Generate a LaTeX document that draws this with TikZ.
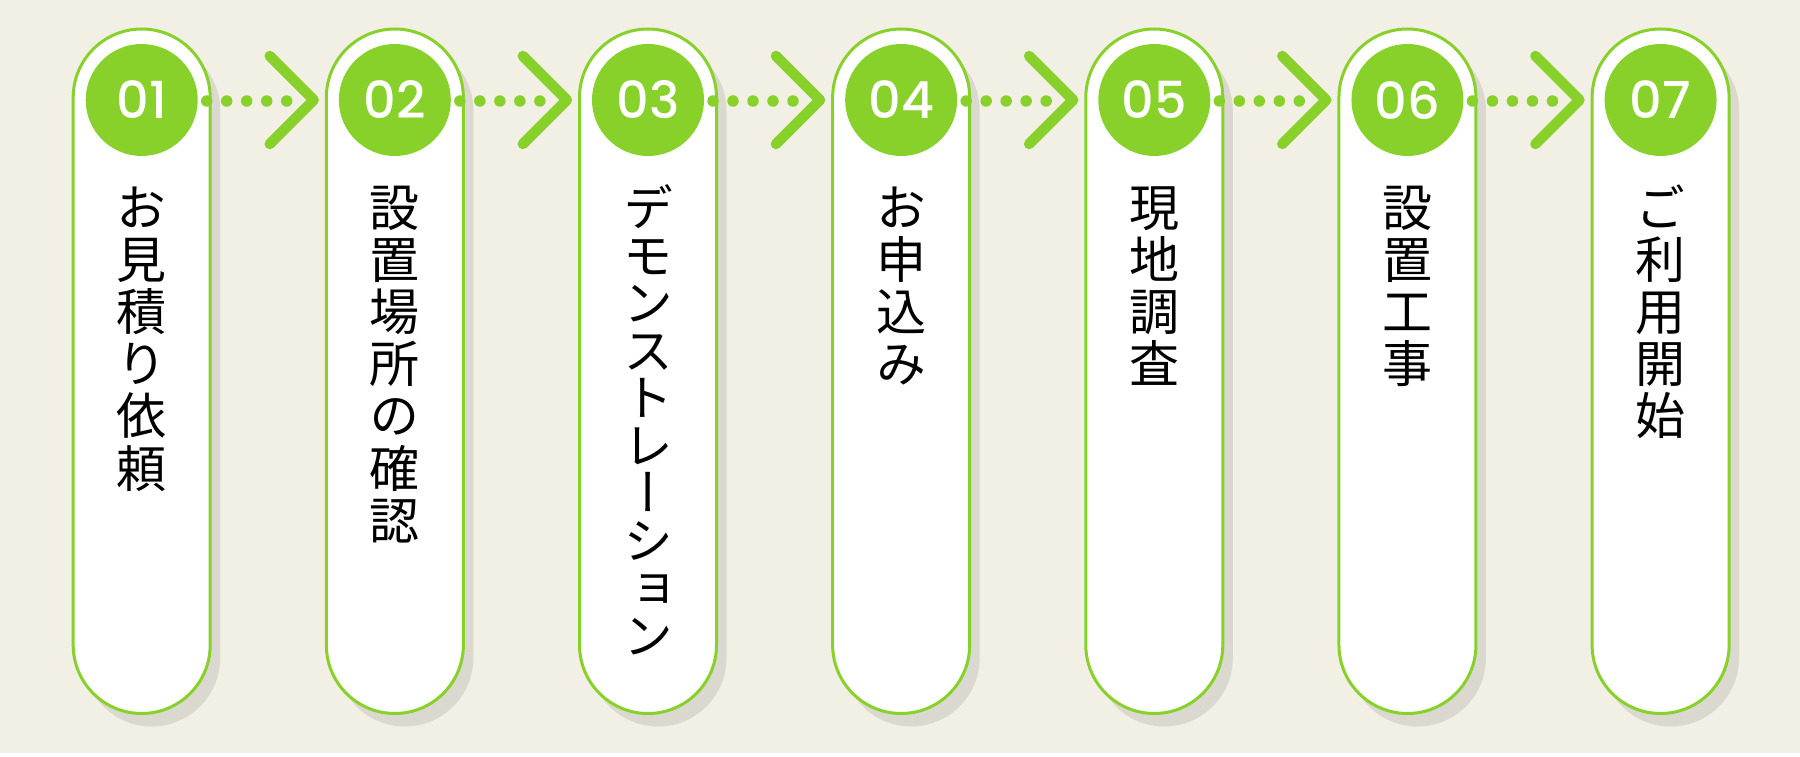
\documentclass[tikz,border=0pt]{standalone}
\usepackage{fontspec}
\newfontfamily\cjk[RawFeature={+vert}]{Noto Sans CJK JP}
\newfontfamily\numfont{Poppins Medium}
\definecolor{bg}{HTML}{F2EFE4}
\definecolor{lg}{HTML}{87D12A}
\definecolor{sh}{HTML}{DBD9CF}
\newcommand\pillpath[1]{(#1-68.5,111) -- (#1-68.5,658.5) arc[start angle=180,end angle=0,radius=68.5] -- (#1+68.5,111) arc[start angle=0,end angle=-180,radius=68.5] -- cycle}
\newcommand\vtext[4]{%
  \foreach \ch [count=\k] in {#4} {\node[jp] (#1-\k) at (#2, 529-#3*\k+#3) {\ch};}}
\tikzset{
  pillshape/.style={fill=white, draw=lg, line width=3pt},
  shadowshape/.style={fill=sh},
  numcircle/.style={circle, fill=lg, minimum size=112pt, inner sep=0pt, text=white,
    font=\numfont\fontsize{51}{51}\selectfont},
  jp/.style={inner sep=0pt, font=\cjk\fontsize{50}{52}\selectfont, anchor=base},
  dotline/.style={draw=lg, line width=11.5pt, line cap=round, dash pattern=on 0pt off 20pt},
  chev/.style={draw=lg, line width=10.5pt, line cap=round, line join=round},
}
\begin{document}
\begin{tikzpicture}[x=1pt,y=1pt]
\useasboundingbox (0,0) rectangle (1800,756);
\fill[white] (0,0) rectangle (1800,756);
\fill[bg] (0,3) rectangle (1800,756);
\foreach \i/\c in {1/141.7,2/394.85,3/648.0,4/901.15,5/1154.3,6/1407.45,7/1660.6} {
  \fill[shadowshape, shift={(10,-13)}] \pillpath{\c};
  \path[pillshape] \pillpath{\c};
  \node[numcircle] (n\i) at (\c,656) {0\i};
}
\vtext{t1}{141.7}{52}{お,見,積,り,依,頼}
\vtext{t2}{394.85}{52}{設,置,場,所,の,確,認}
\vtext{t3}{648.0}{47.5}{デ,モ,ン,ス,ト,レ,ー,シ,ョ,ン}
\vtext{t4}{901.15}{52}{お,申,込,み}
\vtext{t5}{1154.3}{52}{現,地,調,査}
\vtext{t6}{1407.45}{52}{設,置,工,事}
\vtext{t7}{1660.6}{52}{ご,利,用,開,始}
\foreach \i/\c in {1/141.7,2/394.85,3/648.0,4/901.15,5/1154.3,6/1407.45} {
  \coordinate (ds\i) at (\c+65,655);
  \coordinate (de\i) at (\c+146,655);
  \coordinate (v\i) at (\c+172,656);
  \draw[dotline] (ds\i) -- (de\i);
  \draw[chev] ([shift={(-44,44)}]v\i) -- (v\i) -- ([shift={(-44,-44)}]v\i);
}
\end{tikzpicture}
\end{document}
